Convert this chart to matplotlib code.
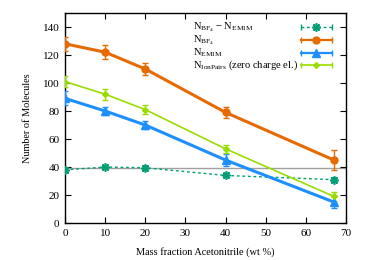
import matplotlib
matplotlib.use("Agg")
import matplotlib.pyplot as plt

plt.rcParams['font.family'] = ['Liberation Serif', 'DejaVu Serif']
plt.rcParams['mathtext.fontset'] = 'custom'
plt.rcParams['mathtext.rm'] = 'Liberation Serif'
plt.rcParams['mathtext.it'] = 'Liberation Serif:italic'

x = [0, 10, 20, 40, 67]
n_bf4 = [128, 122, 110, 79, 45]
n_bf4_err = [5, 5, 4, 4, 7]
n_emim = [89, 80, 70, 45, 15]
n_emim_err = [5, 3, 3, 4, 4]
n_pairs = [101, 92, 81, 53, 19]
n_pairs_err = [4, 4, 3, 3, 3]
n_diff = [38, 40, 39.5, 34, 31]
n_diff_err = [1, 1, 1, 1, 1]
ref_line = 39.5

labels = [r'N$_{\mathrm{BF_4}}$ $-$ N$_{\mathrm{EMIM}}$',
          r'N$_{\mathrm{BF_4}}$',
          r'N$_{\mathrm{EMIM}}$',
          r'N$_{\mathrm{IonPairs}}$ (zero charge el.)']

fig = plt.figure(figsize=(3.74, 2.60), dpi=100)
ax = fig.add_axes([0.174, 0.142, 0.751, 0.808])

ax.axhline(ref_line, color='#a0a0a0', lw=1.0, zorder=1)

c_teal = '#009e73'
c_orange = '#e66a00'
c_blue = '#1e8fff'
c_lime = '#99dd00'

styles = [
    dict(color=c_teal, ls=(0, (2, 2)), lw=1.0, marker=(8, 2, 0), ms=6, mew=1.2),
    dict(color=c_orange, ls='-', lw=2.2, marker='o', ms=5, mew=1.0),
    dict(color=c_blue, ls='-', lw=2.2, marker='^', ms=6, mew=1.0),
    dict(color=c_lime, ls='-', lw=1.2, marker='D', ms=3, mew=1.0),
]
series = [(n_diff, n_diff_err), (n_bf4, n_bf4_err), (n_emim, n_emim_err), (n_pairs, n_pairs_err)]

for (vals, errs), st in zip(series, styles):
    ax.errorbar(x, vals, yerr=errs, color=st['color'], ls=st['ls'], lw=st['lw'],
                marker=st['marker'], ms=st['ms'], mew=st['mew'],
                capsize=2, elinewidth=1.0, capthick=1.0, zorder=4)

ax.set_xlim(0, 70)
ax.set_ylim(0, 150)
ax.set_xticks(range(0, 71, 10))
ax.set_yticks(range(0, 141, 20))
ax.tick_params(direction='in', top=True, right=True, labelsize=8, length=4, width=0.8, pad=4)
for s in ax.spines.values():
    s.set_linewidth(1.0)
ax.set_xlabel('Mass fraction Acetonitrile (wt %)', fontsize=7.4, labelpad=7)
ax.set_ylabel('Number of Molecules', fontsize=7.4, labelpad=8)

# manual gnuplot-style legend: text left-aligned, sample on the right
row_y = [0.933, 0.871, 0.811, 0.752]
tx, hx0, hx1 = 0.456, 0.839, 0.949
for lab, y, st in zip(labels, row_y, styles):
    ax.text(tx, y, lab, transform=ax.transAxes, fontsize=7.6, va='center', ha='left')
    ax.plot([hx0, hx1], [y, y], transform=ax.transAxes, color=st['color'], ls=st['ls'],
            lw=st['lw'] if st['lw'] < 2 else 1.6, clip_on=False)
    ax.plot([hx0, hx1], [y, y], transform=ax.transAxes, ls='none', marker='|', ms=4,
            mew=1.0, color=st['color'], clip_on=False)
    ax.plot([(hx0 + hx1) / 2], [y], transform=ax.transAxes, ls='none', marker=st['marker'],
            ms=st['ms'], mew=st['mew'], color=st['color'], clip_on=False)

fig.savefig('out.png', dpi=100)
